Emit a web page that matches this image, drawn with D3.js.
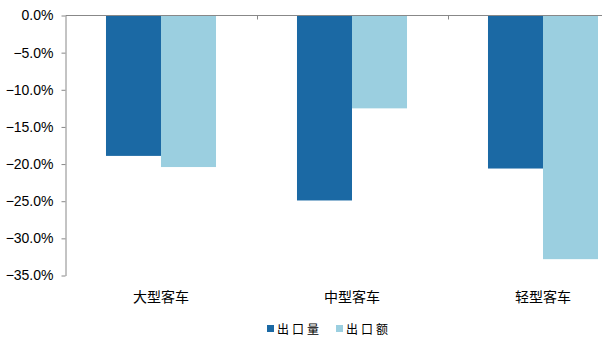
<!DOCTYPE html>
<html><head><meta charset="utf-8">
<script src="https://cdn.jsdelivr.net/npm/d3@7"></script>
<style>body{margin:0;background:#fff}svg{display:block}</style>
</head><body>
<script>
const categories = ["大型客车", "中型客车", "轻型客车"];
const seriesNames = ["出口量", "出口额"];
const volume = [-18.9, -24.9, -20.6];
const value = [-20.4, -12.5, -32.8];
const yTicks = [0, -5, -10, -15, -20, -25, -30, -35];
const colors = ["#1B69A4", "#9BCFE0"];

const W = 602, H = 352;
const svg = d3.select("body").append("svg").attr("width", W).attr("height", H);

const x0 = d3.scaleBand().domain(categories).range([65.5, 638.5]).padding(0);
const x1 = d3.scaleBand().domain(seriesNames).range([0, x0.bandwidth()]).paddingInner(0).paddingOuter(0.736);
const y = d3.scaleLinear().domain([0, -35]).range([15.5, 275.5]);

const data = categories.map((c, i) => ({cat: c, vals: [volume[i], value[i]]}));

const g = svg.append("g");
data.forEach(d => {
  seriesNames.forEach((s, j) => {
    g.append("rect")
      .attr("x", x0(d.cat) + x1(s))
      .attr("y", y(0))
      .attr("width", x1.bandwidth())
      .attr("height", y(d.vals[j]) - y(0))
      .attr("fill", colors[j]);
  });
});

// y axis
const yAxis = svg.append("g").attr("transform", "translate(65.5,0)")
  .call(d3.axisLeft(y).tickValues(yTicks).tickSize(4).tickSizeOuter(0).tickFormat(d => d3.format(".1f")(d) + "%"));
yAxis.select(".domain").attr("stroke", "#888");
yAxis.selectAll(".tick line").attr("stroke", "#888");
yAxis.selectAll("text").attr("font-family", "Liberation Sans, Arial, sans-serif").attr("font-size", 14).attr("fill", "#000").attr("x", -12);

// x axis line at zero with boundary ticks
const bounds = [x0.range()[0], ...categories.slice(1).map(c => x0(c))];
const xAxisG = svg.append("g");
xAxisG.append("line").attr("x1", 65.5).attr("x2", W).attr("y1", y(0)).attr("y2", y(0)).attr("stroke", "#888");
bounds.slice(1).forEach(b => {
  xAxisG.append("line").attr("x1", Math.round(b) + 0.5).attr("x2", Math.round(b) + 0.5)
    .attr("y1", y(0)).attr("y2", y(0) + 4).attr("stroke", "#888");
});

// category labels
svg.append("g").selectAll("text").data(categories).join("text")
  .attr("x", d => x0(d) + x0.bandwidth() / 2)
  .attr("y", 302)
  .attr("text-anchor", "middle")
  .attr("font-family", "Noto Sans CJK SC, sans-serif")
  .attr("font-size", 14)
  .attr("fill", "#000")
  .text(d => d);

// legend
const legendX = [267, 336];
const lg = svg.append("g");
seriesNames.forEach((s, j) => {
  lg.append("rect").attr("x", legendX[j]).attr("y", 325).attr("width", 7).attr("height", 7).attr("fill", colors[j]);
  lg.append("text").attr("x", legendX[j] + 10).attr("y", 333.5)
    .attr("font-family", "Noto Sans CJK SC, sans-serif").attr("font-size", 12)
    .attr("letter-spacing", 3).attr("fill", "#000").text(s);
});
</script>
</body></html>
